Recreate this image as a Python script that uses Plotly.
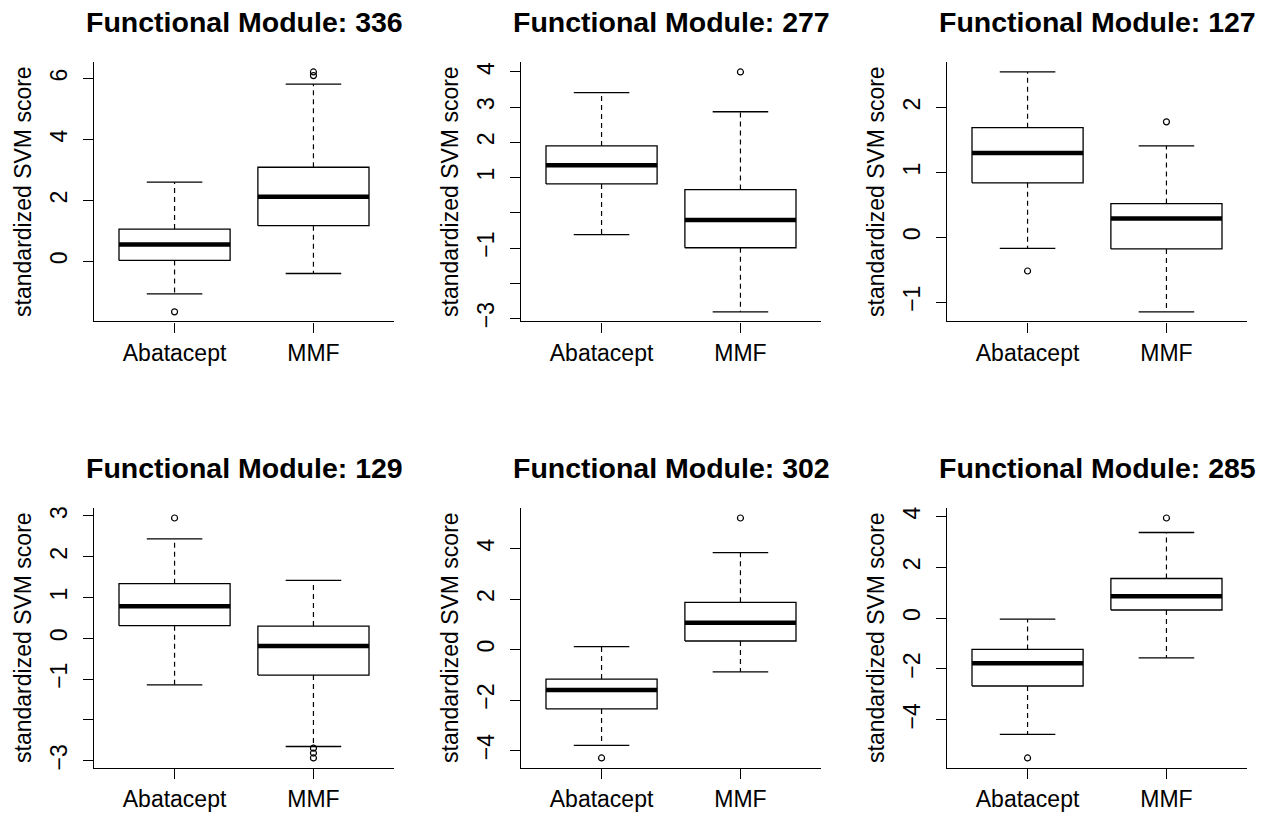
import plotly.graph_objects as go

# ---------------- data ----------------
modules = ["336", "277", "127", "129", "302", "285"]
groups = ["Abatacept", "MMF"]

abatacept_lower = [-1.07, -0.62, -0.17, -1.14, -3.79, -4.57]
abatacept_q1 = [0.03, 0.82, 0.84, 0.31, -2.35, -2.67]
abatacept_median = [0.55, 1.35, 1.30, 0.79, -1.60, -1.78]
abatacept_q3 = [1.06, 1.90, 1.69, 1.34, -1.17, -1.23]
abatacept_upper = [2.60, 3.41, 2.55, 2.44, 0.12, -0.04]
abatacept_outliers = [[-1.66], [], [-0.52], [2.95], [-4.29], [-5.50]]

mmf_lower = [-0.40, -2.81, -1.15, -2.65, -0.88, -1.56]
mmf_q1 = [1.17, -0.99, -0.18, -0.90, 0.34, 0.32]
mmf_median = [2.12, -0.20, 0.29, -0.19, 1.06, 0.86]
mmf_q3 = [3.09, 0.66, 0.52, 0.30, 1.87, 1.56]
mmf_upper = [5.82, 2.87, 1.41, 1.42, 3.84, 3.37]
mmf_outliers = [[6.10, 6.22], [4.00], [1.78], [-2.69, -2.81, -2.93], [5.21], [3.94]]

y_tickvals = [
    [0, 2, 4, 6],
    [-3, -2, -1, 0, 1, 2, 3, 4],
    [-1, 0, 1, 2],
    [-3, -2, -1, 0, 1, 2, 3],
    [-4, -2, 0, 2, 4],
    [-4, -2, 0, 2, 4],
]
y_ticktext = [
    ["0", "2", "4", "6"],
    ["\u22123", "", "\u22121", "", "1", "2", "3", "4"],
    ["\u22121", "0", "1", "2"],
    ["\u22123", "", "\u22121", "0", "1", "2", "3"],
    ["\u22124", "\u22122", "0", "2", "4"],
    ["\u22124", "\u22122", "0", "2", "4"],
]
y_title = "standardized SVM score"

# ---------------- layout geometry (pixels) ----------------
W, H = 1265, 822
col_x = [(94, 394), (521, 821), (947, 1247)]
row_y = [(61, 323), (512, 774)]

FONT = "Liberation Sans, Arial, Helvetica, sans-serif"
BOXW = 0.4      # half box width
STAPLE = 0.2    # half staple width

fig = go.Figure()

stats = {
    0: (abatacept_lower, abatacept_q1, abatacept_median, abatacept_q3, abatacept_upper, abatacept_outliers),
    1: (mmf_lower, mmf_q1, mmf_median, mmf_q3, mmf_upper, mmf_outliers),
}

annotations = []
for p, mod in enumerate(modules):
    r, c = divmod(p, 3)
    ax = "" if p == 0 else str(p + 1)
    xref, yref = "x" + ax, "y" + ax
    x0, x1 = col_x[c]
    ytop, ybot = row_y[r]

    allv = []
    for g in (0, 1):
        lo, q1, md, q3, up, outs = stats[g]
        pos = g + 1
        allv += [lo[p], up[p]] + outs[p]
        # box
        fig.add_trace(go.Scatter(
            x=[pos - BOXW, pos + BOXW, pos + BOXW, pos - BOXW, pos - BOXW],
            y=[q1[p], q1[p], q3[p], q3[p], q1[p]],
            mode="lines", line=dict(color="black", width=1.3),
            fill="toself", fillcolor="white",
            xaxis=xref, yaxis=yref, showlegend=False, hoverinfo="skip"))
        # whiskers (dashed)
        fig.add_trace(go.Scatter(
            x=[pos, pos, None, pos, pos],
            y=[q3[p], up[p], None, q1[p], lo[p]],
            mode="lines", line=dict(color="black", width=1.2, dash="5px,4px"),
            xaxis=xref, yaxis=yref, showlegend=False, hoverinfo="skip"))
        # staples
        fig.add_trace(go.Scatter(
            x=[pos - STAPLE, pos + STAPLE, None, pos - STAPLE, pos + STAPLE],
            y=[up[p], up[p], None, lo[p], lo[p]],
            mode="lines", line=dict(color="black", width=1.3),
            xaxis=xref, yaxis=yref, showlegend=False, hoverinfo="skip"))
        # median
        fig.add_trace(go.Scatter(
            x=[pos - BOXW, pos + BOXW],
            y=[md[p], md[p]],
            mode="lines", line=dict(color="black", width=4.5),
            xaxis=xref, yaxis=yref, showlegend=False, hoverinfo="skip"))
        # outliers
        if outs[p]:
            fig.add_trace(go.Scatter(
                x=[pos] * len(outs[p]), y=outs[p], mode="markers",
                marker=dict(symbol="circle-open", size=6, color="black",
                            line=dict(width=1.2, color="black")),
                xaxis=xref, yaxis=yref, showlegend=False, hoverinfo="skip"))

    vmin, vmax = min(allv), max(allv)
    ext = 0.04 * (vmax - vmin)
    yr = [vmin - ext, vmax + ext]

    xdom = [x0 / W, x1 / W]
    ydom = [(H - ybot) / H, (H - ytop) / H]
    fig.layout["xaxis" + ax] = dict(
        domain=xdom, anchor=yref, range=[0.42, 2.58],
        tickvals=[1, 2], ticktext=groups, tickangle=0,
        showline=True, linecolor="black", linewidth=1.2,
        ticks="outside", ticklen=10, tickwidth=1.2, tickcolor="black",
        ticklabelstandoff=1,
        showgrid=False, zeroline=False, fixedrange=True,
        tickfont=dict(family=FONT, size=23, color="black"))
    fig.layout["yaxis" + ax] = dict(
        domain=ydom, anchor=xref, range=yr,
        tickvals=y_tickvals[p], ticktext=y_ticktext[p], tickangle=-90,
        showline=True, linecolor="black", linewidth=1.2,
        ticks="outside", ticklen=10, tickwidth=1.2, tickcolor="black",
        ticklabelstandoff=7,
        showgrid=False, zeroline=False, fixedrange=True,
        tickfont=dict(family=FONT, size=23, color="black"))

    # panel title
    annotations.append(dict(
        text="<b>Functional Module: " + mod + "</b>",
        xref="paper", yref="paper",
        x=(x0 + x1) / 2 / W, y=(H - (ytop - 41)) / H,
        xanchor="center", yanchor="middle", showarrow=False,
        font=dict(family=FONT, size=28.5, color="black")))
    # y-axis title
    annotations.append(dict(
        text=y_title, textangle=-90,
        xref="paper", yref="paper",
        x=(x0 - 71) / W, y=(H - (ytop + ybot) / 2) / H,
        xanchor="center", yanchor="middle", showarrow=False,
        font=dict(family=FONT, size=23, color="black")))

fig.update_layout(
    width=W, height=H, margin=dict(l=0, r=0, t=0, b=0),
    paper_bgcolor="white", plot_bgcolor="white",
    annotations=annotations, showlegend=False)

fig.write_html(
    "out.html", config={"displayModeBar": False},
    post_script="document.body.style.margin='0';document.body.style.overflow='hidden';"
                "document.documentElement.style.overflow='hidden';")
